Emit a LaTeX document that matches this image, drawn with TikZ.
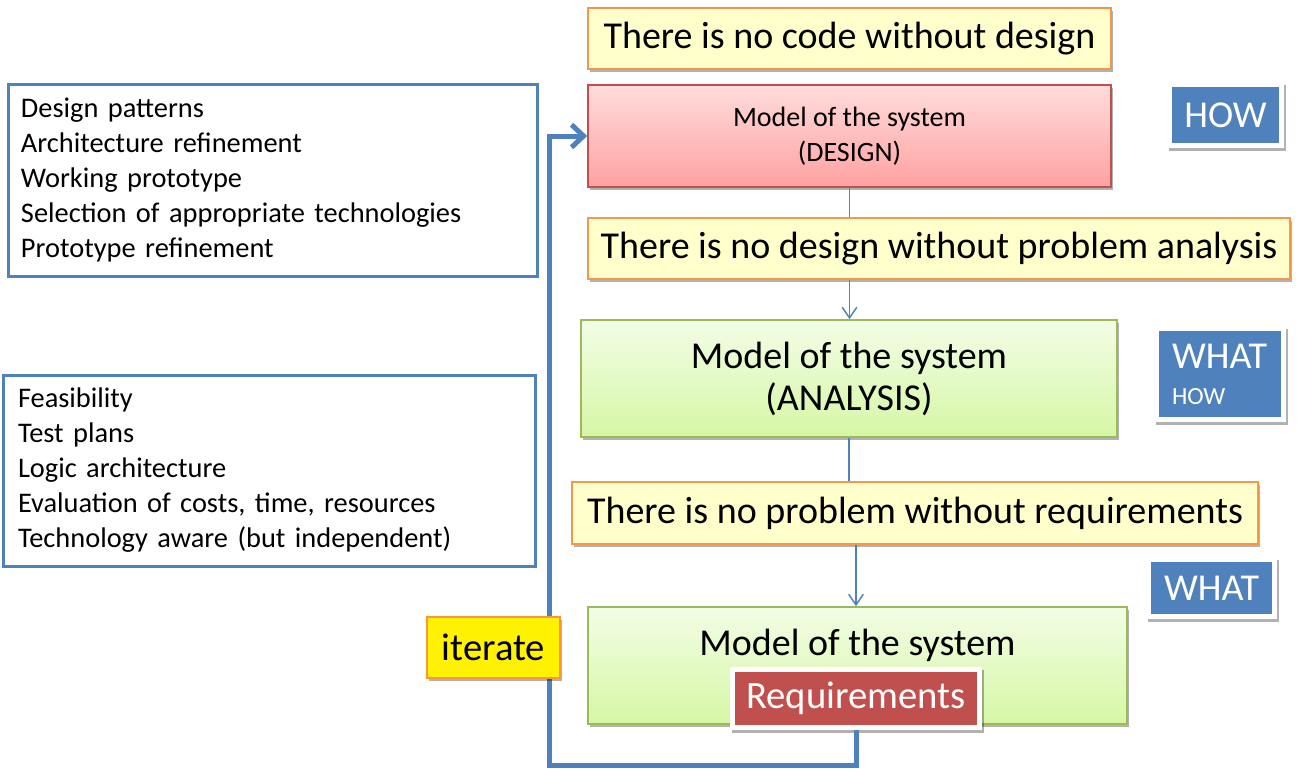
\documentclass[tikz,border=0pt]{standalone}
\usepackage{fontspec}
\setmainfont{Carlito}
\usetikzlibrary{shadows,arrows.meta,calc}
\definecolor{ublue}{HTML}{4F81BD}
\definecolor{uorange}{HTML}{F79646}
\definecolor{uyellow}{HTML}{FFFFCC}
\definecolor{ured}{HTML}{C0504D}
\definecolor{redtop}{HTML}{FFDCDC}
\definecolor{redbot}{HTML}{FFA1A1}
\definecolor{greentop}{HTML}{F2FDE6}
\definecolor{greenbot}{HTML}{D6F7A5}
\definecolor{ugreen}{HTML}{9BBB59}
\begin{document}
\begin{tikzpicture}[x=0.75pt,y=-0.75pt,
  shad/.style={drop shadow={shadow xshift=1.5pt,shadow yshift=-2pt,opacity=0.3,fill=black}},
  note/.style={draw=uorange,line width=1.5pt,fill=uyellow,shad,minimum height=45.75pt,
    font=\fontsize{28.5}{32}\selectfont,inner sep=0pt},
  redmodel/.style={draw=ured,line width=1.2pt,top color=redtop,bottom color=redbot,shad,inner sep=0pt,
    minimum width=392.25pt,minimum height=76.5pt,align=center,font=\fontsize{21}{26}\selectfont},
  greenmodel/.style={draw=ugreen,line width=1.2pt,top color=greentop,bottom color=greenbot,shad,inner sep=0pt,
    align=center,font=\fontsize{28.5}{31.5}\selectfont},
  tag/.style={fill=white,text=white,inner sep=0pt,
    drop shadow={shadow xshift=1.5pt,shadow yshift=-2.5pt,opacity=0.3,fill=black},
    path picture={\fill[#1] ($(path picture bounding box.south west)+(3.75pt,3.75pt)$)
      rectangle ($(path picture bounding box.north east)-(3.75pt,3.75pt)$);}},
  tag/.default=ublue,
  listbox/.style={draw=ublue,line width=2.25pt,fill=white,align=left,inner ysep=0pt,
    font=\fontsize{21.3}{26.25}\selectfont},
  thin/.style={draw=ublue,line width=1.1pt},
  thinarrow/.style={thin,-{Straight Barb[length=8pt,width=11pt]}},
  loop/.style={draw=ublue,line width=3.75pt,line join=miter,-{Straight Barb[length=9pt,width=17pt]}}
]
\useasboundingbox (0,0) rectangle (1305,768);

% left boxes
\node[listbox,minimum width=396.75pt,minimum height=144pt,inner xsep=9.75pt,text width=377.25pt] (list1) at (272.5,180)
  {Design patterns\\Architecture refinement\\Working prototype\\Selection of appropriate technologies\\Prototype refinement};
\node[listbox,minimum width=399pt,minimum height=143.25pt,inner xsep=11.25pt,text width=376.5pt] (list2) at (269,470.5)
  {Feasibility\\Test plans\\Logic architecture\\Evaluation of costs, time, resources\\Technology aware (but independent)};

% main column
\node[note,minimum width=392.25pt] (code) at (849.5,38.5) {There is no code without design};
\node[redmodel] (design) at (849.5,136) {Model of the system\\(DESIGN)};
\node[note,minimum width=526.5pt] (nodesign) at (939,248.5) {There is no design without problem analysis};
\node[greenmodel,minimum width=402pt,minimum height=87.75pt] (analysis) at (849,378.5) {Model of the system\\(ANALYSIS)};
\node[note,minimum width=514.5pt,minimum height=46.5pt] (noproblem) at (915,513) {There is no problem without requirements};
\node[greenmodel,minimum width=404.25pt,minimum height=87.75pt] (reqmodel) at (857.5,665.5) {};
\node[font=\fontsize{28.5}{32}\selectfont] (reqtitle) at (857.5,645) {Model of the system};

% tags
\node[tag,minimum width=87.75pt,minimum height=49.5pt,font=\fontsize{28.5}{30}\selectfont] (how) at (1225.5,115) {HOW};
\node[tag,minimum width=99pt,minimum height=72pt,align=left,text width=72pt,inner xsep=13.5pt] (whathow) at (1220,374)
  {\fontsize{28.5}{30}\selectfont WHAT\\[14pt]\fontsize{18.5}{20}\selectfont HOW};
\node[tag,minimum width=98.25pt,minimum height=46.5pt,font=\fontsize{28.5}{30}\selectfont] (what) at (1211.5,588) {WHAT};

% connectors
\draw[thin] (design.south) -- (design.south |- nodesign.north);
\draw[thinarrow] (design.south |- nodesign.south) -- (design.south |- analysis.north);
\draw[thin] (analysis.south) -- (analysis.south |- noproblem.north);
\coordinate (reqx) at (856,0);
\draw[thinarrow] (reqx |- noproblem.south) -- (reqx |- reqmodel.north);

% requirements label
\node[tag=ured,minimum width=189pt,minimum height=47.25pt,font=\fontsize{29}{32}\selectfont] (req) at (856,698.5) {Requirements};

% iterate loop
\coordinate (corner) at (549,765);
\draw[loop] (req.south) |- (corner) |- (design.west);
\node[note,fill=yellow,minimum width=99.75pt,font=\fontsize{29}{32}\selectfont] (iterate) at (493.5,647.5) {iterate};
\end{tikzpicture}
\end{document}
